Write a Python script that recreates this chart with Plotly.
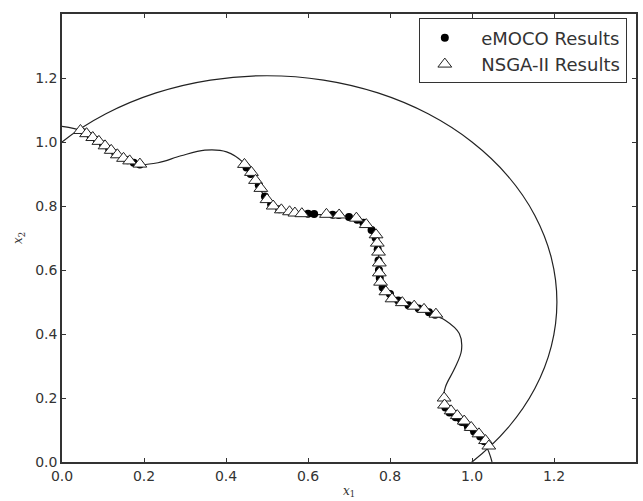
import plotly.graph_objects as go

# Constraint boundary g1 (wavy curve)
g1_x = [0.0, 0.0508, 0.0980, 0.1414, 0.1851, 0.2342, 0.2903, 0.3486, 0.4014, 0.4424, 0.4714,
        0.4956, 0.5271, 0.5743, 0.6344, 0.6949, 0.7416, 0.7667, 0.7730, 0.7743, 0.7888, 0.8269,
        0.8819, 0.9354, 0.9690, 0.9743, 0.9569, 0.9351, 0.9305, 0.9536, 0.9952, 1.0336, 1.0488]
g1_y = [1.0488, 1.0336, 0.9952, 0.9536, 0.9305, 0.9351, 0.9569, 0.9743, 0.9690, 0.9354, 0.8819,
        0.8269, 0.7888, 0.7743, 0.7730, 0.7667, 0.7416, 0.6949, 0.6344, 0.5743, 0.5271, 0.4956,
        0.4714, 0.4424, 0.4014, 0.3486, 0.2903, 0.2342, 0.1851, 0.1414, 0.0980, 0.0508, 0.0]

# Constraint boundary g2 (circular arc)
g2_x = [-0.0880, 0.0, 0.1071, 0.2294, 0.3620, 0.5, 0.6380, 0.7706, 0.8929, 1.0, 1.0880, 1.1533,
        1.1935, 1.2071, 1.1935, 1.1533, 1.0880, 1.0, 0.8929]
g2_y = [0.8929, 1.0, 1.0880, 1.1533, 1.1935, 1.2071, 1.1935, 1.1533, 1.0880, 1.0, 0.8929, 0.7706,
        0.6380, 0.5, 0.3620, 0.2294, 0.1071, 0.0, -0.0880]

# eMOCO results
emoco_x = [0.055, 0.07, 0.085, 0.1, 0.115, 0.13, 0.16, 0.175, 0.19,
           0.45, 0.46, 0.48, 0.495, 0.51, 0.53, 0.6, 0.615, 0.66, 0.675, 0.7, 0.72, 0.735, 0.755,
           0.765, 0.77, 0.772, 0.773, 0.775, 0.782, 0.80, 0.82, 0.845, 0.87, 0.895, 0.91,
           0.935, 0.945, 0.96, 0.975, 0.99, 1.005, 1.02, 1.03]
emoco_y = [1.03, 1.018, 1.006, 0.992, 0.978, 0.965, 0.943, 0.935, 0.93,
           0.92, 0.90, 0.865, 0.83, 0.805, 0.79, 0.776, 0.775, 0.773, 0.772, 0.766, 0.757, 0.748, 0.725,
           0.70, 0.665, 0.63, 0.60, 0.575, 0.545, 0.525, 0.505, 0.49, 0.48, 0.468, 0.46,
           0.17, 0.155, 0.14, 0.125, 0.11, 0.095, 0.08, 0.065]

# NSGA-II results
nsga_x = [0.045, 0.06, 0.075, 0.09, 0.105, 0.12, 0.135, 0.15, 0.165, 0.19,
          0.445, 0.462, 0.472, 0.485, 0.5, 0.515, 0.535, 0.555, 0.568, 0.585, 0.645, 0.676, 0.718,
          0.742, 0.766, 0.769, 0.772, 0.774, 0.774, 0.777, 0.79, 0.805, 0.83, 0.859, 0.883, 0.912,
          0.932, 0.933, 0.949, 0.964, 0.981, 0.998, 1.017, 1.033, 1.041]
nsga_y = [1.036, 1.026, 1.014, 1.002, 0.988, 0.974, 0.96, 0.949, 0.941, 0.931,
          0.93, 0.905, 0.88, 0.855, 0.82, 0.80, 0.788, 0.782, 0.778, 0.776, 0.774, 0.772, 0.762,
          0.742, 0.71, 0.684, 0.656, 0.622, 0.591, 0.562, 0.532, 0.51, 0.498, 0.487, 0.477, 0.462,
          0.2, 0.178, 0.16, 0.145, 0.128, 0.108, 0.088, 0.067, 0.05]

tick_vals = [0.0, 0.2, 0.4, 0.6, 0.8, 1.0, 1.2]
series_names = ["eMOCO Results", "NSGA-II Results"]
pad = "\u00a0\u00a0"

fig = go.Figure()
fig.add_trace(go.Scatter(x=g1_x, y=g1_y, mode="lines", line=dict(color="#222", width=1.2, shape="spline"),
                         showlegend=False, hoverinfo="skip"))
fig.add_trace(go.Scatter(x=g2_x, y=g2_y, mode="lines", line=dict(color="#222", width=1.2, shape="spline"),
                         showlegend=False, hoverinfo="skip"))
fig.add_trace(go.Scatter(x=emoco_x, y=emoco_y, mode="markers", name=pad + series_names[0],
                         marker=dict(symbol="circle", size=8, color="black")))
fig.add_trace(go.Scatter(x=nsga_x, y=nsga_y, mode="markers", name=pad + series_names[1],
                         marker=dict(symbol="triangle-up", size=12, color="white",
                                     line=dict(color="#222", width=1))))

axis_common = dict(range=[0, 1.4], tickvals=tick_vals, tickformat=".1f", showgrid=False, zeroline=False,
                   showline=True, linecolor="#333", linewidth=1.5, mirror="ticks", ticks="inside",
                   ticklen=4, tickcolor="#333", tickfont=dict(family="DejaVu Sans", size=14, color="#333"))

fig.update_xaxes(**axis_common, title=dict(text="<i>x</i><sub>1</sub>", standoff=4,
                 font=dict(family="DejaVu Serif", size=12, color="#333")))
fig.update_yaxes(**axis_common, title=dict(text="<i>x</i><sub>2</sub>", standoff=10,
                 font=dict(family="DejaVu Serif", size=12, color="#333")))

fig.update_layout(
    width=643, height=501,
    margin=dict(l=62, r=5, t=14, b=39),
    plot_bgcolor="white", paper_bgcolor="white",
    legend=dict(x=0.984, y=0.99, xanchor="right", yanchor="top", bgcolor="white",
                bordercolor="#333", borderwidth=1, font=dict(family="DejaVu Sans", size=18, color="#333"),
                itemwidth=40, tracegroupgap=0),
)

fig.write_html("out.html")
